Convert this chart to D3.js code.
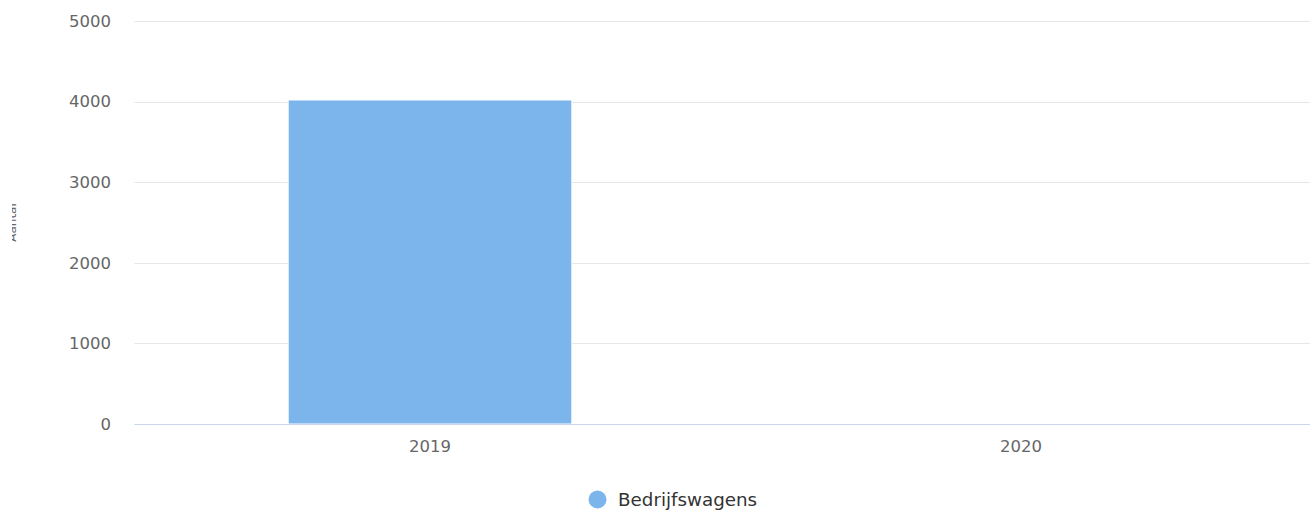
<!DOCTYPE html>
<html>
<head>
<meta charset="utf-8">
<script src="https://cdn.jsdelivr.net/npm/d3@7"></script>
<style>
  body { margin: 0; background: #fff; }
  text { font-family: "DejaVu Sans", Verdana, sans-serif; }
</style>
</head>
<body>
<div class="chart"></div>
<script>
const categories = ['2019', '2020'];
const values = [4020, 0];
const yTicks = [0, 1000, 2000, 3000, 4000, 5000];
const seriesName = 'Bedrijfswagens';
const yTitle = 'Aantal';

const W = 1310, H = 511;
const plot = { left: 134.5, right: 1316.5, top: 21, bottom: 424 };

const svg = d3.select('.chart')
    .append('svg')
    .attr('width', W)
    .attr('height', H);

const x = d3.scaleBand()
    .domain(categories)
    .range([plot.left, plot.right]);

const y = d3.scaleLinear()
    .domain([0, 5000])
    .range([plot.bottom, plot.top]);

// grid lines
svg.append('g')
    .selectAll('line')
    .data(yTicks.filter(d => d > 0))
    .join('line')
    .attr('x1', plot.left)
    .attr('x2', plot.right)
    .attr('y1', d => Math.round(y(d)) + 0.5)
    .attr('y2', d => Math.round(y(d)) + 0.5)
    .attr('stroke', '#e6e6e6');

// y labels
svg.append('g')
    .selectAll('text')
    .data(yTicks)
    .join('text')
    .attr('x', 111)
    .attr('y', d => y(d))
    .attr('dy', '0.35em')
    .attr('text-anchor', 'end')
    .attr('fill', '#666')
    .style('font-size', '16.5px')
    .text(d => d);

// y title, cut off at the left edge like the original
svg.append('clipPath')
    .attr('id', 'ytclip')
    .append('rect')
    .attr('x', 12).attr('y', 0).attr('width', 40).attr('height', H);

svg.append('g')
    .attr('clip-path', 'url(#ytclip)')
    .append('text')
    .attr('transform', `translate(16,${(plot.top + plot.bottom) / 2}) rotate(-90)`)
    .attr('text-anchor', 'middle')
    .attr('fill', '#666')
    .style('font-size', '12px')
    .text(yTitle);

// bars
const barW = x.bandwidth() * 0.6 * 0.8;
svg.append('g')
    .selectAll('rect')
    .data(categories.map((c, i) => ({ c, v: values[i] })))
    .join('rect')
    .attr('x', d => x(d.c) + x.bandwidth() / 2 - barW / 2)
    .attr('width', barW)
    .attr('y', d => y(d.v))
    .attr('height', d => y(0) - y(d.v))
    .attr('fill', '#7cb5ec')
    .attr('stroke', '#fff')
    .attr('stroke-width', 1);

// x axis line
svg.append('line')
    .attr('x1', plot.left)
    .attr('x2', plot.right)
    .attr('y1', plot.bottom + 0.5)
    .attr('y2', plot.bottom + 0.5)
    .attr('stroke', '#ccd6eb');

// x labels
svg.append('g')
    .selectAll('text')
    .data(categories)
    .join('text')
    .attr('x', d => x(d) + x.bandwidth() / 2)
    .attr('y', 452)
    .attr('text-anchor', 'middle')
    .attr('fill', '#666')
    .style('font-size', '16.5px')
    .text(d => d);

// legend
const legend = svg.append('g').attr('class', 'legend');
legend.append('circle')
    .attr('cx', 597.5)
    .attr('cy', 499.5)
    .attr('r', 9)
    .attr('fill', '#7cb5ec');
legend.append('text')
    .attr('x', 618)
    .attr('y', 506)
    .attr('fill', '#333')
    .style('font-size', '18.3px')
    .text(seriesName);
</script>
</body>
</html>
